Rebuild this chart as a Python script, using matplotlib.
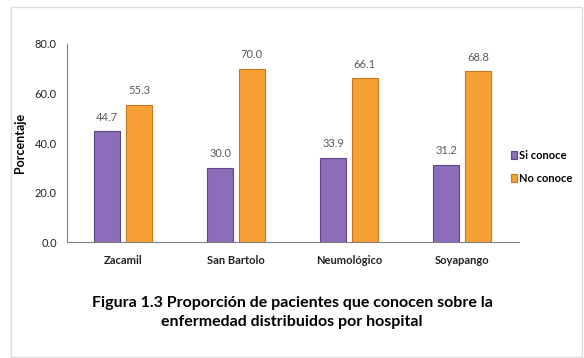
import numpy as np
import matplotlib
matplotlib.use('Agg')
import matplotlib.pyplot as plt
from matplotlib.patches import Rectangle

# Data
hospitales = ['Zacamil', 'San Bartolo', 'Neumológico', 'Soyapango']
si_conoce = [44.7, 30.0, 33.9, 31.2]
no_conoce = [55.3, 70.0, 66.1, 68.8]
yticks = [0, 20, 40, 60, 80]

plt.rcParams['font.family'] = ['Lato', 'DejaVu Sans']

fig = plt.figure(figsize=(5.84, 3.58), dpi=100)
ax = fig.add_axes([0.114, 0.323, 0.774, 0.555])

x = np.arange(len(hospitales))
w = 0.23
off = 0.14
b1 = ax.bar(x - off, si_conoce, w, color='#8b6dbb', edgecolor='#5f4785', linewidth=0.8, label='Si conoce')
b2 = ax.bar(x + off, no_conoce, w, color='#f7a035', edgecolor='#c47a1c', linewidth=0.8, label='No conoce')

for bars, vals in ((b1, si_conoce), (b2, no_conoce)):
    for r, v in zip(bars, vals):
        ax.text(r.get_x() + r.get_width() / 2, v + 3.5, f'{v:.1f}', ha='center', va='bottom',
                fontsize=8, color='#595959')

ax.set_xlim(-0.5, 3.5)
ax.set_ylim(0, 80)
ax.set_yticks(yticks)
ax.set_yticklabels([f'{t:.1f}' for t in yticks], fontsize=8, color='#222222')
ax.set_xticks(x)
ax.set_xticklabels(hospitales, fontsize=8, fontweight='bold', color='#222222')
ax.tick_params(axis='both', length=0, pad=7)
ax.tick_params(axis='x', pad=9)
ax.set_ylabel('Porcentaje', fontsize=9, fontweight='bold', labelpad=6)

for s in ('top', 'right'):
    ax.spines[s].set_visible(False)
ax.spines['left'].set_color('#808080')
ax.spines['bottom'].set_color('#808080')

ax.legend(loc='center left', bbox_to_anchor=(0.96, 0.38), frameon=False,
          handlelength=0.6, handleheight=0.8, handletextpad=0.2, labelspacing=1.1,
          prop={'weight': 'bold', 'size': 8})

fig.text(0.5, 0.128, 'Figura 1.3 Proporción de pacientes que conocen sobre la\nenfermedad distribuidos por hospital',
         ha='center', va='center', fontsize=11.5, fontweight='bold', linespacing=1.45)

fig.patches.append(Rectangle((11 / 584, 1 / 358), 571 / 584, 350 / 358, transform=fig.transFigure,
                             fill=False, edgecolor='#dddddd', linewidth=1))

fig.savefig('out.png', dpi=100)
